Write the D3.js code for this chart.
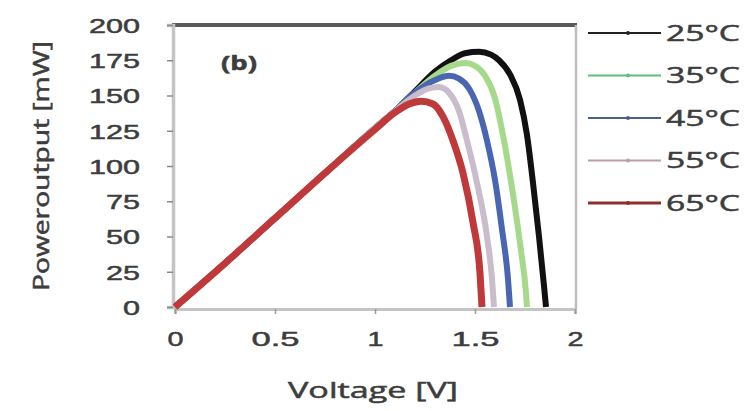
<!DOCTYPE html>
<html>
<head>
<meta charset="utf-8">
<script src="https://cdn.jsdelivr.net/npm/d3@7"></script>
<style>
  html, body { margin: 0; padding: 0; background: #fff; }
  svg { display: block; font-family: 'Open Sans', 'DejaVu Sans', sans-serif; }
</style>
</head>
<body>
<div id="chart"></div>
<script>
// P-V curves at different temperatures

const seriesNames = ['25°C', '35°C', '45°C', '55°C', '65°C'];
const seriesColors = ['#111111', '#a6d98a', '#4a66b2', '#c8bccd', '#c0393a'];
const legendColors = ['#222222', '#5fbf7a', '#4b5f8f', '#b9a0a6', '#8e2f2a'];

const xTicks = [0, 0.5, 1, 1.5, 2];
const xTickLabels = ['0', '0.5', '1', '1.5', '2'];
const yTicks = [0, 25, 50, 75, 100, 125, 150, 175, 200];

// voltage [V] / power [mW] per series
const volt25 = [0, 0.25, 0.5, 0.75, 1.0, 1.1, 1.2, 1.3, 1.38, 1.45, 1.52, 1.58, 1.62, 1.675, 1.725, 1.76, 1.79, 1.82, 1.845, 1.855];
const power25 = [0, 31, 63, 95, 127, 139, 153, 167, 175, 180, 181, 179, 175, 165, 147, 122, 88, 50, 15, 0];

const volt35 = [0, 0.25, 0.5, 0.75, 1.0, 1.1, 1.2, 1.3, 1.38, 1.45, 1.5, 1.55, 1.6, 1.645, 1.69, 1.73, 1.755, 1.76];
const power35 = [0, 31, 63, 95, 127, 139, 152, 164, 171, 173, 171, 164, 148, 118, 80, 40, 10, 0];

const volt45 = [0, 0.25, 0.5, 0.75, 1.0, 1.1, 1.2, 1.3, 1.37, 1.42, 1.47, 1.52, 1.56, 1.6, 1.635, 1.665, 1.675];
const power45 = [0, 31, 63, 95, 127, 139, 152, 161, 164, 162, 155, 139, 118, 90, 55, 20, 0];

const volt55 = [0, 0.25, 0.5, 0.75, 1.0, 1.1, 1.2, 1.27, 1.32, 1.37, 1.42, 1.46, 1.51, 1.56, 1.585, 1.595];
const power55 = [0, 31, 63, 95, 127, 139, 150, 155, 156, 152, 139, 118, 88, 50, 20, 0];

const volt65 = [0, 0.25, 0.5, 0.75, 1.0, 1.1, 1.17, 1.23, 1.29, 1.34, 1.39, 1.44, 1.49, 1.525, 1.535];
const power65 = [0, 31, 63, 95, 126, 138, 144, 146, 144, 135, 118, 95, 60, 24, 0];

const volts = [volt25, volt35, volt45, volt55, volt65];
const powers = [power25, power35, power45, power55, power65];

const W = 750, H = 411;
const textColor = '#3d3d3d';

const svg = d3.select('#chart').append('svg')
    .attr('width', W)
    .attr('height', H);

const x = d3.scaleLinear().domain([0, 2]).range([175, 575]);
const y = d3.scaleLinear().domain([0, 200]).range([307, 25]);

function styleText(sel, size) {
    sel.attr('fill', textColor)
        .attr('stroke', textColor)
        .attr('stroke-width', 0.5)
        .style('font-size', size + 'px')
        .style('font-weight', 400);
}

// plot frame: top border dark, right border light
svg.append('line')
    .attr('x1', x(0) - 3).attr('x2', x(2) + 2)
    .attr('y1', y(200)).attr('y2', y(200))
    .attr('stroke', '#595959').attr('stroke-width', 4);
svg.append('line')
    .attr('x1', x(2) + 1).attr('x2', x(2) + 1)
    .attr('y1', y(200)).attr('y2', y(0) + 2)
    .attr('stroke', '#bdbdbd').attr('stroke-width', 2.5);

// y axis
const yAxis = svg.append('g')
    .attr('transform', `translate(${x(0) - 2},0)`)
    .call(d3.axisLeft(y).tickValues(yTicks).tickSize(6).tickPadding(27));
yAxis.select('.domain').attr('stroke', '#c4c4c4').attr('stroke-width', 3.5);
yAxis.selectAll('.tick line').attr('stroke', '#8a8a8a').attr('stroke-width', 1.5);
yAxis.selectAll('.tick text')
    .call(styleText, 21)
    .attr('dy', '0.35em')
    .attr('textLength', d => String(d).length * 17)
    .attr('lengthAdjust', 'spacingAndGlyphs');

// x axis
const xAxis = svg.append('g')
    .attr('transform', `translate(0,${y(0) + 2})`)
    .call(d3.axisBottom(x).tickValues(xTicks).tickFormat((d, i) => xTickLabels[i]).tickSize(5).tickPadding(17));
xAxis.select('.domain').attr('stroke', '#c4c4c4').attr('stroke-width', 3);
xAxis.selectAll('.tick line').attr('stroke', '#9a9a9a').attr('stroke-width', 1.5);
xAxis.selectAll('.tick text')
    .call(styleText, 21)
    .attr('textLength', (d, i) => xTickLabels[i].length * 16)
    .attr('lengthAdjust', 'spacingAndGlyphs');

// axis titles
svg.append('text')
    .attr('x', x(1) - 2).attr('y', 398)
    .attr('text-anchor', 'middle')
    .call(styleText, 22)
    .attr('textLength', 170).attr('lengthAdjust', 'spacingAndGlyphs')
    .text('Voltage [V]');

svg.append('text')
    .attr('transform', 'translate(49,166) rotate(-90)')
    .attr('text-anchor', 'middle')
    .call(styleText, 21)
    .attr('textLength', 250).attr('lengthAdjust', 'spacingAndGlyphs')
    .text('Poweroutput [mW]');

// panel tag
svg.append('text')
    .attr('x', 221).attr('y', 70)
    .call(styleText, 19)
    .style('font-weight', 700)
    .attr('textLength', 36).attr('lengthAdjust', 'spacingAndGlyphs')
    .text('(b)');

// curves, red drawn last so it sits on top
const line = d3.line()
    .x(d => x(d[0]))
    .y(d => y(d[1]))
    .curve(d3.curveMonotoneX);

const seriesData = seriesNames.map((name, i) => ({
    name: name,
    color: seriesColors[i],
    points: volts[i].map((v, j) => [v, powers[i][j]])
}));

svg.append('g').selectAll('path.curve')
    .data(seriesData)
    .enter().append('path')
    .classed('curve', true)
    .attr('d', d => line(d.points))
    .attr('fill', 'none')
    .attr('stroke', d => d.color)
    .attr('stroke-width', (d, i) => i === 4 ? 7 : 6)
    .attr('stroke-linejoin', 'round');

// legend
const legendY = d3.scalePoint().domain(seriesNames).range([33, 203]);
const legend = svg.append('g').selectAll('g.legend')
    .data(seriesNames)
    .enter().append('g')
    .classed('legend', true)
    .attr('transform', d => `translate(0,${legendY(d)})`);

legend.append('line')
    .attr('x1', 588).attr('x2', 661)
    .attr('y1', 0).attr('y2', 0)
    .attr('stroke', (d, i) => legendColors[i])
    .attr('stroke-width', (d, i) => i === 4 ? 3 : 2);
legend.append('circle')
    .attr('cx', 628).attr('cy', 0).attr('r', 2)
    .attr('fill', (d, i) => legendColors[i]);
legend.append('text')
    .attr('x', 666).attr('y', 0).attr('dy', '0.36em')
    .call(styleText, 21)
    .attr('textLength', 74).attr('lengthAdjust', 'spacingAndGlyphs')
    .text(d => d);
</script>
</body>
</html>
